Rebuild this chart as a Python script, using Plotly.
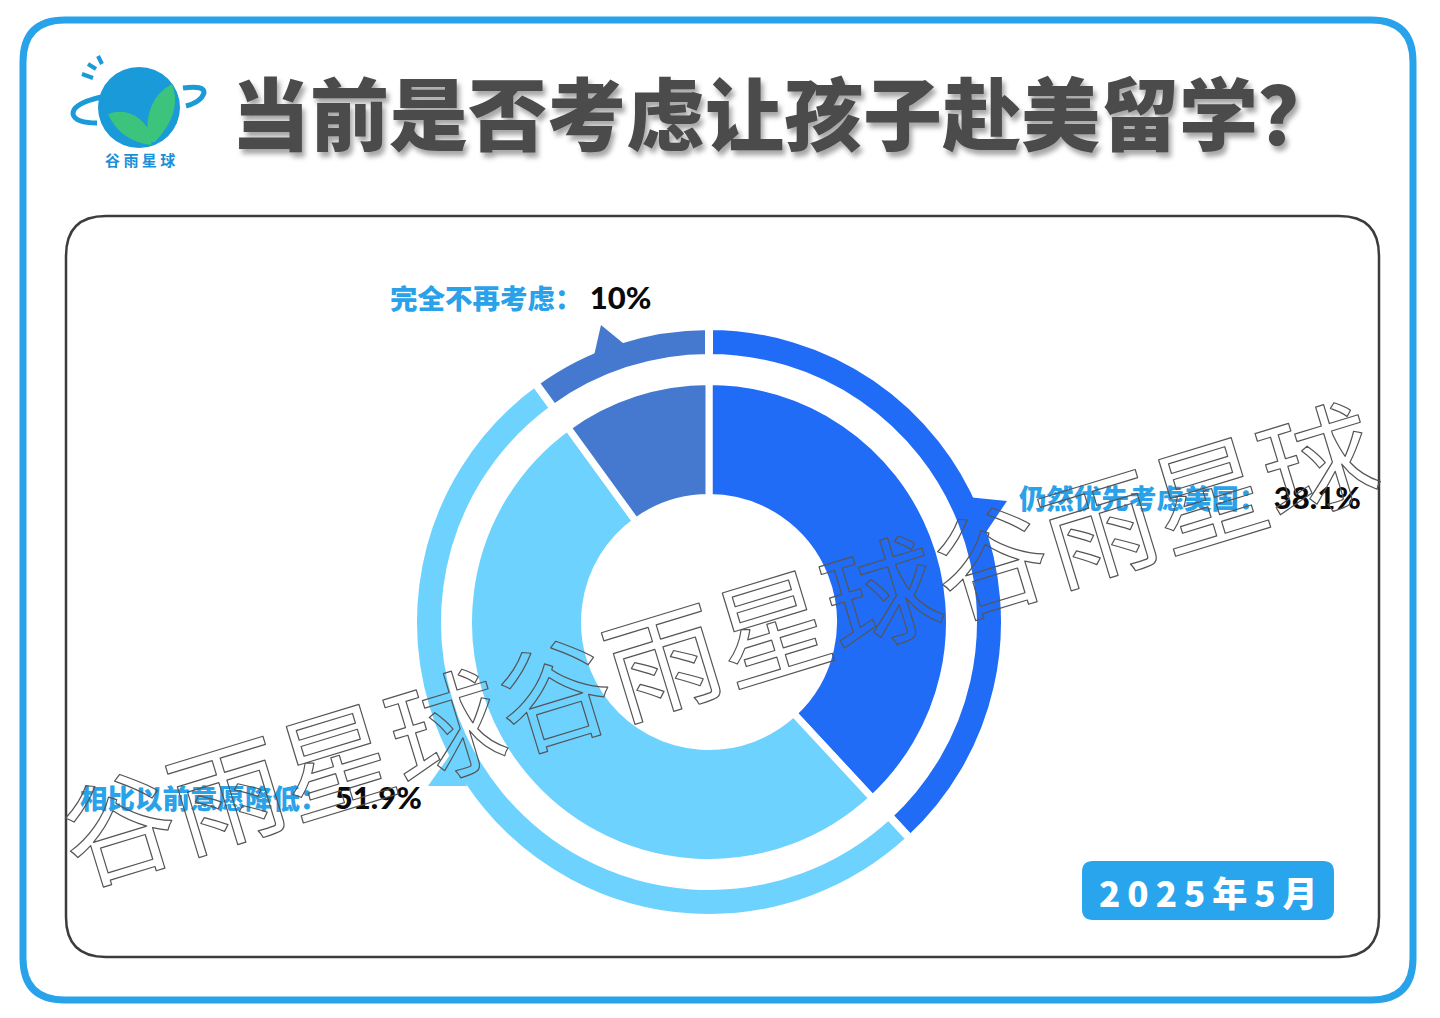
import plotly.graph_objects as go

# ---------------- data ----------------
categories = ["仍然优先考虑美国", "相比以前意愿降低", "完全不再考虑"]
values = [38.1, 51.9, 10.0]
value_labels = ["38.1%", "51.9%", "10%"]
colors = ["#206cf6", "#6dd2fe", "#4479cf"]
title_text = "当前是否考虑让孩子赴美留学？"
date_badge = "2025年5月"
brand = "谷雨星球"

W, H = 1440, 1018
CX, CY = 709, 622  # pie centre in pixels


def dom(r):
    return dict(x=[(CX - r) / W, (CX + r) / W], y=[(H - CY - r) / H, (H - CY + r) / H])


def rrect(x0, y0, x1, y1, r):
    return (f"M{x0+r},{y0} L{x1-r},{y0} Q{x1},{y0} {x1},{y0+r} L{x1},{y1-r} "
            f"Q{x1},{y1} {x1-r},{y1} L{x0+r},{y1} Q{x0},{y1} {x0},{y1-r} "
            f"L{x0},{y0+r} Q{x0},{y0} {x0+r},{y0} Z")


fig = go.Figure()

# outer thin ring
R_OUT = 296
fig.add_trace(go.Pie(
    labels=categories, values=values, sort=False, direction="clockwise", rotation=0,
    hole=264 / R_OUT, domain=dom(R_OUT), textinfo="none", hoverinfo="label+percent",
    marker=dict(colors=colors, line=dict(color="white", width=8)), showlegend=False,
))
# inner donut
R_IN = 240.5
fig.add_trace(go.Pie(
    labels=categories, values=values, sort=False, direction="clockwise", rotation=0,
    hole=124.5 / R_IN, domain=dom(R_IN), textinfo="none", hoverinfo="label+percent",
    marker=dict(colors=colors, line=dict(color="white", width=7)), showlegend=False,
))

shapes = []
# outer blue frame
shapes.append(dict(type="path", path=rrect(23, 20, 1413, 1000, 42), xref="x", yref="y",
                   line=dict(color="#28a3ea", width=7), fillcolor="rgba(0,0,0,0)", layer="below"))
# inner dark frame
shapes.append(dict(type="path", path=rrect(66, 216, 1379, 957, 40), xref="x", yref="y",
                   line=dict(color="#3c3c3c", width=2.5), fillcolor="rgba(0,0,0,0)", layer="below"))
# date badge
shapes.append(dict(type="path", path=rrect(1082, 861, 1334, 920, 11), xref="x", yref="y",
                   line=dict(width=0), fillcolor="#29a5ee", layer="below"))

# callout pointers
pointers = [
    ("M601,325 L593,360 L629,348 Z", colors[2]),
    ("M1007,501 L967,497 L980,541 Z", colors[0]),
    ("M452,752 L428,786 L467,786 Z", colors[1]),
]
for p, c in pointers:
    shapes.append(dict(type="path", path=p, xref="x", yref="y", line=dict(width=0),
                       fillcolor=c, layer="above"))

# logo
logo_blue = "#1a9ad8"
logo_green = "#3cc47c"
shapes.append(dict(type="circle", x0=98, x1=180, y0=67, y1=148, xref="x", yref="y",
                   fillcolor=logo_blue, line=dict(width=0), layer="above"))
shapes.append(dict(type="path", path="M108,114 Q131,106 147,127 Q153,136 151,145 Q120,141 108,114 Z",
                   xref="x", yref="y", fillcolor=logo_green, line=dict(width=0), layer="above"))
shapes.append(dict(type="path", path="M148,142 Q143,99 172,84 Q183,112 155,142 Z",
                   xref="x", yref="y", fillcolor=logo_green, line=dict(width=0), layer="above"))
shapes.append(dict(type="path", path="M101,97 Q72,104 73,114 Q75,123 97,123",
                   xref="x", yref="y", line=dict(color=logo_blue, width=5), layer="above"))
shapes.append(dict(type="path", path="M183,88 Q205,85 204,93 Q201,102 186,106",
                   xref="x", yref="y", line=dict(color=logo_blue, width=5), layer="above"))
for (x0, y0, x1, y1) in [(82, 74, 93, 78), (88, 64, 96, 69), (98, 56, 102, 64)]:
    shapes.append(dict(type="line", x0=x0, y0=y0, x1=x1, y1=y1, xref="x", yref="y",
                       line=dict(color=logo_blue, width=4), layer="above"))

annotations = []
# title
annotations.append(dict(
    x=784, y=110, xref="x", yref="y", text=title_text, showarrow=False,
    font=dict(family="Noto Sans CJK SC", size=79, color="#4b4b4b", weight=900,
              shadow="3px 5px 5px rgba(0,0,0,0.35)"),
    xanchor="center", yanchor="middle"))
# logo text
annotations.append(dict(
    x=140, y=159, xref="x", yref="y", text="谷 雨 星 球", showarrow=False,
    font=dict(family="Noto Sans CJK SC", size=15, color="#1a8fd6", weight=700),
    xanchor="center", yanchor="middle"))

# labels
label_blue = "#2aa2ea"
label_pos = [(1017, 497), (78, 797), (388, 297)]
for cat, vl, (lx, ly) in zip(categories, value_labels, label_pos):
    annotations.append(dict(
        x=lx, y=ly, xref="x", yref="y", showarrow=False, xanchor="left", yanchor="middle",
        text=(f"<span style='color:{label_blue}'>{cat}：</span>"
              f"<span style='color:#0a0a0a;font-family:Lato;font-size:31px'> {vl}</span>"),
        font=dict(family="Noto Sans CJK SC", size=27.5, weight=900, color=label_blue)))

# date badge text
annotations.append(dict(
    x=1208, y=891, xref="x", yref="y", text="2\u20090\u20092\u20095\u2009年\u20095\u2009月", showarrow=False,
    font=dict(family="Noto Sans CJK SC", size=35, color="white", weight=900),
    xanchor="center", yanchor="middle"))

# watermark
annotations.append(dict(
    x=716, y=638, xref="x", yref="y", text=brand * 3, showarrow=False, textangle=-17,
    font=dict(family="Noto Sans CJK SC", size=114, color="rgba(80,80,80,0.35)", weight=400),
    xanchor="center", yanchor="middle"))

fig.update_layout(
    width=W, height=H, margin=dict(l=0, r=0, t=0, b=0),
    paper_bgcolor="white", plot_bgcolor="white",
    xaxis=dict(range=[0, W], visible=False, domain=[0, 1], fixedrange=True),
    yaxis=dict(range=[H, 0], visible=False, domain=[0, 1], fixedrange=True),
    shapes=shapes, annotations=annotations, showlegend=False,
)

post = """
document.body.style.margin = '0';
document.body.style.overflow = 'hidden';
var gd = document.getElementById('{plot_id}');
function wm(){
  document.querySelectorAll('.annotation-text').forEach(function(t){
    if (t.textContent.indexOf('谷雨星球谷雨星球') >= 0) {
      t.style.fill = 'none';
      t.style.stroke = '#555';
      t.style.strokeWidth = '1.2px';
      t.style.strokeLinejoin = 'round';
    }
  });
}
wm();
gd.on('plotly_afterplot', wm);
"""

fig.write_html("out.html", post_script=post, config={"displayModeBar": False})
